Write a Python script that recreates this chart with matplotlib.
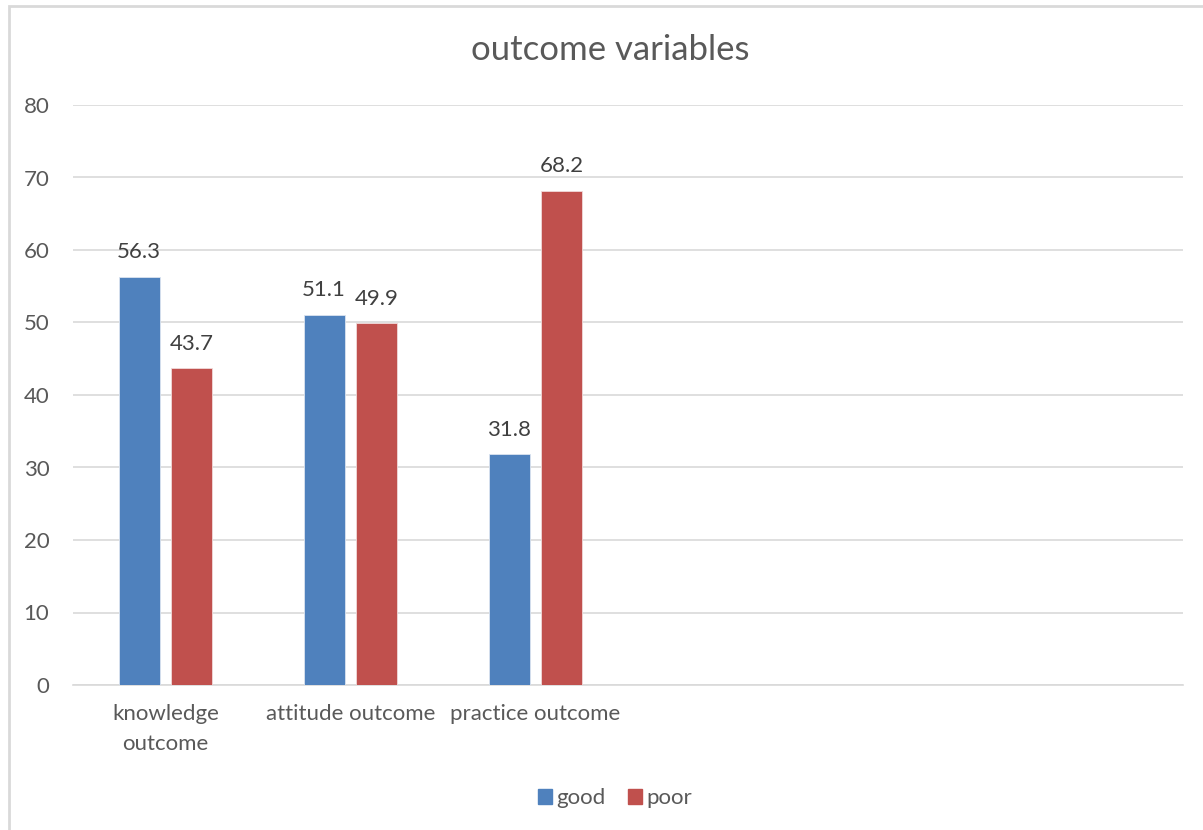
import numpy as np
import matplotlib.pyplot as plt
import matplotlib.patches as mpatches

categories = ["knowledge\noutcome", "attitude outcome", "practice outcome"]
good = [56.3, 51.1, 31.8]
poor = [43.7, 49.9, 68.2]
n_slots = 6  # the category axis has room for six groups, only three are filled

blue = '#4F81BD'
red = '#C0504D'
txt = '#595959'

plt.rcParams['font.family'] = ['Lato', 'DejaVu Sans']

fig = plt.figure(figsize=(12.03, 8.3), dpi=100)
ax = fig.add_axes([73 / 1203, 145 / 830, 1110 / 1203, 580 / 830])

# light frame around the whole chart
fig.patches.append(mpatches.Rectangle((9 / 1203, -0.1), 1.2, 0.1 + 824 / 830,
                                      transform=fig.transFigure, fill=False,
                                      edgecolor='#d9d9d9', linewidth=2))

x = np.arange(len(categories))
w = 0.224
off = 0.142
b1 = ax.bar(x - off, good, w, color=blue, edgecolor='#dbe4f0', linewidth=0.6, zorder=3, label='good')
b2 = ax.bar(x + off, poor, w, color=red, edgecolor='#f0dada', linewidth=0.6, zorder=3, label='poor')

for bars, vals in ((b1, good), (b2, poor)):
    for r, v in zip(bars, vals):
        ax.text(r.get_x() + r.get_width() / 2, v + 2.0, f'{v:.1f}', ha='center', va='bottom',
                fontsize=16, color='#404040')

ax.set_xlim(-0.5, n_slots - 0.5)
ax.set_ylim(0, 80)
ax.set_yticks(range(0, 81, 10))
ax.set_xticks(x)
ax.set_xticklabels(categories, fontsize=16, color=txt, linespacing=1.6)
ax.tick_params(axis='y', labelsize=16, labelcolor=txt, length=0, pad=17)
ax.tick_params(axis='x', length=0, pad=14)

ax.grid(True, axis='y', color='#d9d9d9', linewidth=1.2, zorder=0)
for s in ['top', 'right', 'left']:
    ax.spines[s].set_visible(False)
ax.spines['bottom'].set_color('#d9d9d9')
ax.spines['bottom'].set_linewidth(1.2)

fig.text(610 / 1203, 1 - 50 / 830, 'outcome variables', ha='center', va='center',
         fontsize=25, color=txt)

handles = [mpatches.Patch(color=blue, label='good'), mpatches.Patch(color=red, label='poor')]
fig.legend(handles=handles, loc='center', bbox_to_anchor=(615 / 1203, 1 - 798 / 830), ncol=2,
           frameon=False, fontsize=16, labelcolor=txt, handlelength=0.65, handleheight=0.65,
           handletextpad=0.2, columnspacing=1.0)

fig.savefig('out.png', dpi=100)
